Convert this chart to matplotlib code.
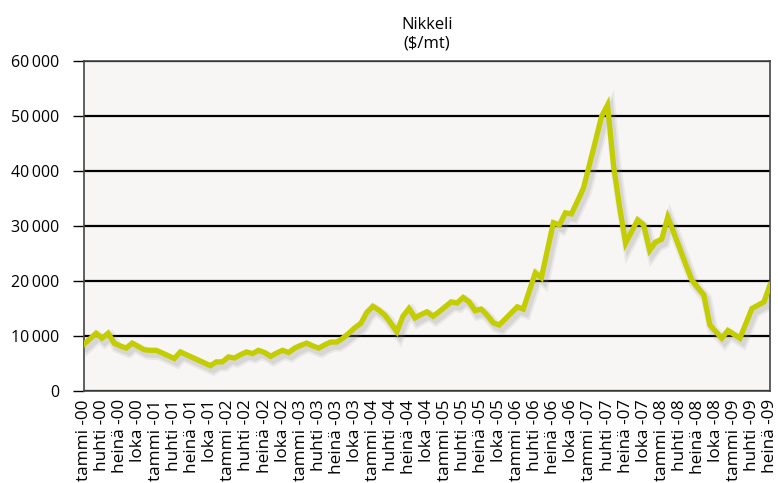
import matplotlib
matplotlib.use("Agg")
import matplotlib.pyplot as plt
import matplotlib.patheffects as pe
from matplotlib.ticker import FuncFormatter

plt.rcParams['font.family'] = ['Open Sans', 'DejaVu Sans']

# Nickel price, monthly, tammi-00 .. heinä-09 ($/mt)
price = [8500, 9500, 10500, 9600, 10500, 8700, 8200, 7800, 8700, 8100,
         7500, 7400, 7400, 6900, 6400, 5900, 7100, 6600, 6100, 5600,
         5100, 4600, 5300, 5300, 6200, 6000, 6600, 7100, 6800, 7400,
         7000, 6300, 6900, 7400, 7000, 7800, 8300, 8700, 8200, 7800,
         8400, 8900, 8900, 9600, 10500, 11500, 12300, 14300, 15400, 14700,
         13800, 12300, 10800, 13600, 15000, 13300, 13900, 14400, 13600, 14400,
         15300, 16200, 16000, 17000, 16200, 14600, 14900, 13800, 12400, 12000,
         13100, 14200, 15300, 14900, 18200, 21500, 20600, 25600, 30600, 30200,
         32400, 32200, 34500, 36900, 41200, 45500, 49900, 52000, 41000, 33500,
         26900, 29000, 31100, 30200, 25600, 27100, 27600, 31600, 28800, 25900,
         23000, 20200, 18800, 17500, 12000, 10800, 9600, 11000, 10300, 9600,
         12300, 15000, 15600, 16200, 19300]

month_names = ['tammi', 'huhti', 'heinä', 'loka']
years = ['00', '01', '02', '03', '04', '05', '06', '07', '08', '09']
tick_labels = [f'{m} -{y}' for y in years for m in month_names][:39]

fig = plt.figure(figsize=(7.78, 4.83), dpi=100)
ax = fig.add_axes([0.108, 0.1905, 0.8817, 0.6832])
ax.set_facecolor('#f7f6f4')

x = list(range(len(price)))
ax.plot(x, price, color='#c3cd00', lw=3.8, solid_joinstyle='miter', zorder=3,
        path_effects=[pe.SimpleLineShadow(offset=(2, -3), shadow_color='#888888', alpha=0.12, linewidth=8),
                      pe.SimpleLineShadow(offset=(2, -3), shadow_color='#888888', alpha=0.18, linewidth=5),
                      pe.Normal()])

ax.set_xlim(0, 114)
ax.set_ylim(0, 60000)
ax.set_yticks(range(0, 60001, 10000))
ax.yaxis.set_major_formatter(FuncFormatter(
    lambda v, p: '0' if v == 0 else f'{int(v) // 1000}\u2009000'))
ax.yaxis.grid(True, color='black', lw=1.6)
ax.set_axisbelow(True)

ax.set_xticks(range(0, 115, 3))
ax.set_xticklabels(tick_labels, rotation=90, fontsize=12.3)
ax.tick_params(axis='x', length=0, pad=6)
ax.tick_params(axis='y', length=8, width=1, pad=10, labelsize=11.5, direction='out')

for s in ax.spines.values():
    s.set_color('#444444')
    s.set_linewidth(1.2)

ax.set_title('Nikkeli\n($/mt)', fontsize=12, pad=10, linespacing=1.2)

fig.savefig('out.png', dpi=100)
